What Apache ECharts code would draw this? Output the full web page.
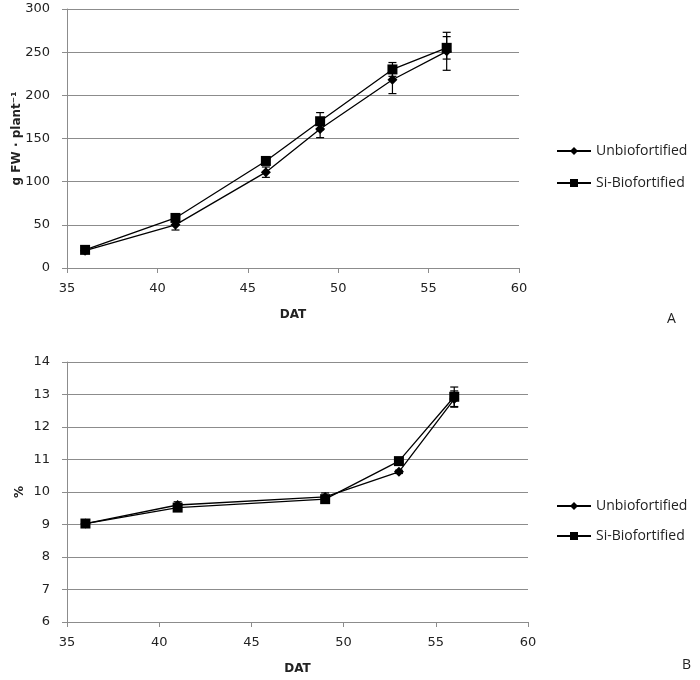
<!DOCTYPE html>
<html><head><meta charset="utf-8">
<script src="https://cdn.jsdelivr.net/npm/echarts@6/dist/echarts.min.js"></script>
<style>html,body{margin:0;padding:0;background:#fff}#c{width:700px;height:680px}</style>
</head><body><div id="c"></div>
<script>
const dayA = [36, 41, 46, 49, 53, 56];
const unbioA = [20, 50, 111, 161, 218, 251];
const unbioAErr = [2, 6, 6, 10, 16, 22];
const siA = [21, 58, 124, 170, 230, 255];
const siAErr = [2, 3, 4, 10, 8, 13];

const dayB = [36, 41, 49, 53, 56];
const unbioB = [9.03, 9.6, 9.85, 10.62, 12.86];
const unbioBErr = [0.04, 0.1, 0.12, 0.05, 0.25];
const siB = [9.03, 9.52, 9.78, 10.95, 12.93];
const siBErr = [0.04, 0.05, 0.05, 0.08, 0.3];

const names = ['Unbiofortified', 'Si-Biofortified'];

const chart = echarts.init(document.getElementById('c'), null, {renderer: 'canvas'});
const tickFont = {fontFamily: 'DejaVu Sans', fontSize: 13, color: '#222'};
const gridColor = '#8c8c8c';

function pairs(x, y) { return x.map((v, i) => [v, y[i]]); }
function errData(x, y, e) { return x.map((v, i) => [v, y[i] - e[i], y[i] + e[i]]); }
function errSeries(x, y, e, xi, yi) {
  return {
    type: 'custom', xAxisIndex: xi, yAxisIndex: yi, silent: true, z: 1,
    data: errData(x, y, e),
    renderItem: function (params, api) {
      const lo = api.coord([api.value(0), api.value(1)]);
      const hi = api.coord([api.value(0), api.value(2)]);
      const w = 4;
      const st = {stroke: '#000', lineWidth: 1.2};
      return {type: 'group', children: [
        {type: 'line', shape: {x1: lo[0], y1: lo[1], x2: hi[0], y2: hi[1]}, style: st},
        {type: 'line', shape: {x1: lo[0] - w, y1: lo[1], x2: lo[0] + w, y2: lo[1]}, style: st},
        {type: 'line', shape: {x1: hi[0] - w, y1: hi[1], x2: hi[0] + w, y2: hi[1]}, style: st}
      ]};
    }
  };
}
function lineSeries(name, x, y, sym, size, xi, yi) {
  return {
    name: name, type: 'line', xAxisIndex: xi, yAxisIndex: yi, z: 3,
    data: pairs(x, y), symbol: sym, symbolSize: size,
    lineStyle: {color: '#000', width: 1.3},
    itemStyle: {color: '#000'}, emphasis: {disabled: true}
  };
}
function xAx(gi) {
  return {
    type: 'value', gridIndex: gi, min: 35, max: 60, interval: 5,
    name: 'DAT', nameLocation: 'middle', nameGap: 41, nameMoveOverlap: false,
    nameTextStyle: {fontFamily: 'DejaVu Sans', fontSize: 12, fontWeight: 'bold', color: '#222'},
    axisLine: {onZero: false, lineStyle: {color: gridColor, width: 1}},
    axisTick: {show: true, length: 5, lineStyle: {color: gridColor}},
    axisLabel: Object.assign({margin: 14}, tickFont),
    splitLine: {show: false}
  };
}
function yAx(gi, min, max, interval, name, gap) {
  return {
    type: 'value', gridIndex: gi, min: min, max: max, interval: interval,
    name: name, nameLocation: 'middle', nameRotate: 90, nameGap: gap, nameMoveOverlap: false,
    nameTextStyle: {fontFamily: 'DejaVu Sans', fontSize: 12, fontWeight: 'bold', color: '#222'},
    axisLine: {show: true, lineStyle: {color: gridColor, width: 1}},
    axisTick: {show: true, length: 5, inside: false, lineStyle: {color: gridColor}},
    axisLabel: Object.assign({margin: 17}, tickFont),
    splitLine: {show: true, lineStyle: {color: gridColor, width: 1}}
  };
}
const legendText = {fontFamily: 'Open Sans', fontSize: 14, color: '#222'};

chart.setOption({
  animation: false,
  backgroundColor: '#fff',
  grid: [
    {left: 67, right: 181, top: 9, height: 259, containLabel: false, outerBoundsMode: 'none'},
    {left: 67, right: 172, top: 362, height: 260, containLabel: false, outerBoundsMode: 'none'}
  ],
  xAxis: [xAx(0), xAx(1)],
  yAxis: [
    yAx(0, 0, 300, 50, 'g FW · plant⁻¹', 44),
    yAx(1, 6, 14, 1, '%', 41)
  ],
  legend: [
    {data: names, orient: 'vertical', left: 551, top: 139, itemGap: 18, itemWidth: 34, itemHeight: 10, textStyle: legendText},
    {data: names, orient: 'vertical', left: 551, top: 494, itemGap: 16, itemWidth: 34, itemHeight: 10, textStyle: legendText}
  ],
  graphic: [
    {type: 'text', left: 667, top: 312, style: {text: 'A', font: '14px "Open Sans"', fill: '#222'}},
    {type: 'text', left: 682, top: 658, style: {text: 'B', font: '14px "Open Sans"', fill: '#222'}}
  ],
  series: [
    errSeries(dayA, unbioA, unbioAErr, 0, 0),
    errSeries(dayA, siA, siAErr, 0, 0),
    lineSeries(names[0], dayA, unbioA, 'diamond', 10, 0, 0),
    lineSeries(names[1], dayA, siA, 'rect', 10, 0, 0),
    errSeries(dayB, unbioB, unbioBErr, 1, 1),
    errSeries(dayB, siB, siBErr, 1, 1),
    lineSeries(names[0], dayB, unbioB, 'diamond', 10, 1, 1),
    lineSeries(names[1], dayB, siB, 'rect', 10, 1, 1)
  ]
});
</script>
</body></html>
